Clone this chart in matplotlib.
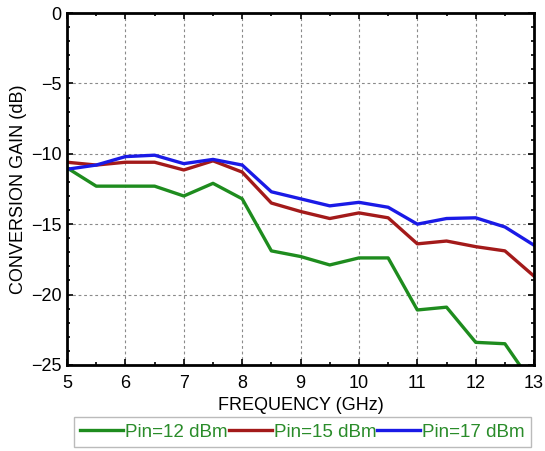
import matplotlib
matplotlib.use('Agg')
import matplotlib.pyplot as plt
from matplotlib.ticker import MultipleLocator

plt.rcParams['font.family'] = ['Liberation Sans', 'DejaVu Sans']

freq = [5, 5.5, 6, 6.5, 7, 7.5, 8, 8.5, 9, 9.5, 10, 10.5, 11, 11.5, 12, 12.5, 13]
gain_12 = [-11.0, -12.3, -12.3, -12.3, -13.0, -12.1, -13.2, -16.9, -17.3, -17.9,
           -17.4, -17.4, -21.1, -20.9, -23.4, -23.5, -26.5]
gain_15 = [-10.6, -10.8, -10.6, -10.6, -11.15, -10.5, -11.3, -13.5, -14.1, -14.6,
           -14.2, -14.55, -16.4, -16.2, -16.6, -16.9, -18.7]
gain_17 = [-11.1, -10.8, -10.2, -10.1, -10.7, -10.4, -10.8, -12.7, -13.2, -13.7,
           -13.45, -13.8, -15.0, -14.6, -14.55, -15.2, -16.5]
labels = ['Pin=12 dBm', 'Pin=15 dBm', 'Pin=17 dBm']
colors = ['#1e8c1e', '#a31a1a', '#1a1ae6']

fig = plt.figure(figsize=(5.45, 4.51), dpi=100)
ax = fig.add_axes([0.123, 0.191, 0.857, 0.78])

for y, lab, c in zip([gain_12, gain_15, gain_17], labels, colors):
    ax.plot(freq, y, color=c, linewidth=2.4, label=lab)

ax.set_xlim(5, 13)
ax.set_ylim(-25, 0)
ax.xaxis.set_major_locator(MultipleLocator(1))
ax.xaxis.set_minor_locator(MultipleLocator(0.5))
ax.yaxis.set_major_locator(MultipleLocator(5))
ax.yaxis.set_minor_locator(MultipleLocator(1))
ax.tick_params(which='both', direction='in', top=True, right=True, width=1.2)
ax.tick_params(which='major', length=4, labelsize=13)
ax.tick_params(axis='x', which='major', pad=7)
ax.tick_params(axis='y', which='major', pad=4)
ax.tick_params(which='minor', length=2)
for s in ax.spines.values():
    s.set_linewidth(2)
ax.grid(True, which='major', color='#8a8a8a', linestyle=(0, (2.5, 2.5)), linewidth=0.8)

ax.set_xlabel('FREQUENCY (GHz)', fontsize=13, labelpad=4)
ax.set_ylabel('CONVERSION GAIN (dB)', fontsize=13, labelpad=3)

leg = fig.legend(loc='center', bbox_to_anchor=(0.555, 0.042), ncol=3, fontsize=13.5,
                 frameon=True, fancybox=False, handlelength=2.3, handletextpad=0.1,
                 columnspacing=0.05, borderpad=0.35)
leg.get_frame().set_edgecolor('#aaaaaa')
leg.get_frame().set_linewidth(1)
for t in leg.get_texts():
    t.set_color('#2a8c2a')

plt.savefig('out.png', dpi=100, facecolor='white')
plt.close()
